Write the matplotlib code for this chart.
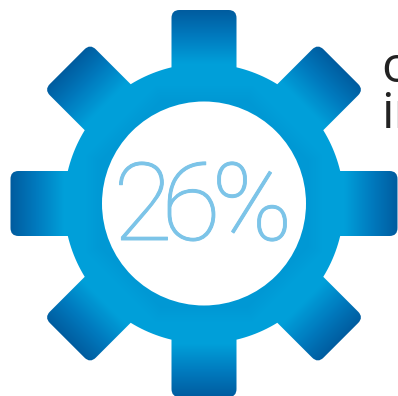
import numpy as np
import matplotlib.pyplot as plt
import matplotlib.patheffects as pe
from matplotlib.colors import LinearSegmentedColormap
from matplotlib.patches import Circle, PathPatch
from matplotlib.path import Path

value_label = "26%"
value_centres = [143, 191, 252]
side_lines = ["o", "in"]
tooth_angles = [0, 45, 90, 135, 180, 225, 270, 315]
gear_stops = [(0.0, "#0098D4"), (0.2, "#00A0DA"), (0.42, "#009FD9"), (0.72, "#007ABE"), (1.0, "#005C9F")]

cx, cy = 204, 203.5
r_hole = 102
r_ring = 140
r_tip = 193.5
half_w = 32.5
corner = 8


def gear_path():
    verts = []
    codes = []
    for ang in tooth_angles:
        a = np.radians(ang)
        u = np.array([np.cos(a), np.sin(a)])
        v = np.array([-np.sin(a), np.cos(a)])
        base = np.sqrt(r_ring ** 2 - half_w ** 2)
        c = np.array([cx, cy])
        p1 = c + u * base - v * half_w
        p2a = c + u * (r_tip - corner) - v * half_w
        p2 = c + u * r_tip - v * half_w
        p2b = c + u * r_tip - v * (half_w - corner)
        p3a = c + u * r_tip + v * (half_w - corner)
        p3 = c + u * r_tip + v * half_w
        p3b = c + u * (r_tip - corner) + v * half_w
        p4 = c + u * base + v * half_w
        verts += [p1, p2a, p2, p2b, p3a, p3, p3b, p4]
        codes += [Path.MOVETO if not verts[:-8] else Path.LINETO, Path.LINETO, Path.CURVE3, Path.CURVE3,
                  Path.LINETO, Path.CURVE3, Path.CURVE3, Path.LINETO]
        # arc of the ring up to the next tooth
        start = ang + np.degrees(np.arcsin(half_w / r_ring))
        stop = ang + 45 - np.degrees(np.arcsin(half_w / r_ring))
        for t in np.radians(np.linspace(start, stop, 12)[1:-1]):
            verts.append(c + r_ring * np.array([np.cos(t), np.sin(t)]))
            codes.append(Path.LINETO)
    verts.append(verts[0])
    codes.append(Path.CLOSEPOLY)
    return Path(np.array(verts), codes)


fig = plt.figure(figsize=(3.98, 3.96), dpi=100)
ax = fig.add_axes([0, 0, 1, 1])
ax.set_xlim(0, 398)
ax.set_ylim(396, 0)
ax.axis("off")

# shade runs outward along each tooth axis
xx, yy = np.meshgrid(np.arange(0, 398, 0.5), np.arange(0, 396, 0.5))
dx, dy = xx - cx, yy - cy
rad = np.hypot(dx, dy)
theta = np.arctan2(dy, dx)
off = (theta + np.pi / 8) % (np.pi / 4) - np.pi / 8
proj = rad * np.cos(off)
shade = np.clip((proj - r_hole) / (r_tip - r_hole), 0, 1)
cmap = LinearSegmentedColormap.from_list("gear", gear_stops)
im = ax.imshow(shade, cmap=cmap, vmin=0, vmax=1, extent=(0, 398, 396, 0), aspect="auto", interpolation="bilinear")
clip = PathPatch(gear_path(), transform=ax.transData, facecolor="none", edgecolor="none")
ax.add_patch(clip)
im.set_clip_path(clip)
ax.set_xlim(0, 398)
ax.set_ylim(396, 0)

ax.add_patch(Circle((cx, cy), r_hole, facecolor="white", edgecolor="none"))

# digits set one by one, the spacing is tighter than the font's own
for ch, x in zip(value_label, value_centres):
    t = ax.text(x, 240, ch, family="Roboto", fontweight=100, fontsize=78, color="#7CC4E8", ha="center", va="baseline")
    t.set_path_effects([pe.withStroke(linewidth=0.7, foreground="#7CC4E8")])

ax.text(381, 82, side_lines[0], family="Open Sans", fontweight=400, fontsize=36, color="#222222", ha="left", va="baseline")
ax.text(381, 128, side_lines[1], family="Open Sans", fontweight=400, fontsize=36, color="#222222", ha="left", va="baseline")

fig.savefig("out.png", dpi=100)
